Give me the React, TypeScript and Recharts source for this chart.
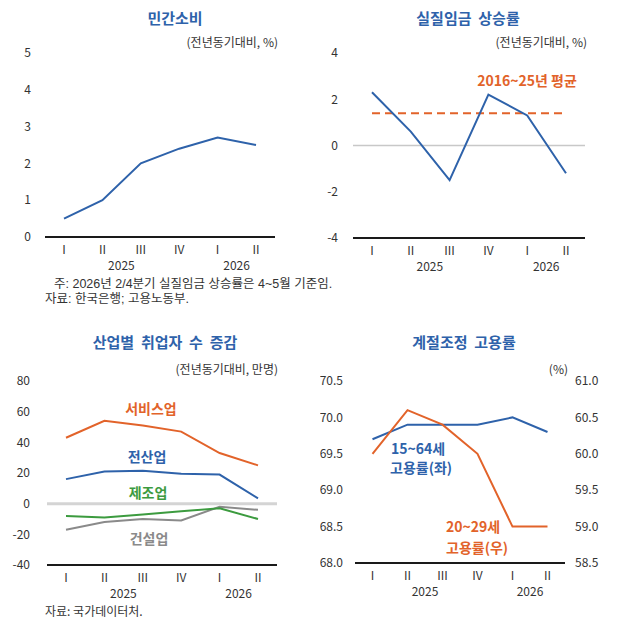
import React from 'react';
import { LineChart, Line, XAxis, YAxis, ReferenceLine } from 'recharts';

const FONT = '"Noto Sans CJK KR", "Noto Sans", sans-serif';
const NOTE_FONT = '"Liberation Sans", "Noto Sans CJK KR", sans-serif';

const quarters = ['I', 'II', 'III', 'IV', 'I', 'II'];
const yearLabels = ['', '2025', '', '', '2026', ''];

const consumption = [0.5, 1.0, 2.0, 2.4, 2.7, 2.5];
const realWage = [2.3, 0.6, -1.5, 2.2, 1.3, -1.2];
const wageAvg = [1.4, 1.4, 1.4, 1.4, 1.4, 1.4];

const services = [43, 54, 51, 47, 33, 25];
const allIndustries = [16, 21, 21.5, 19.5, 19, 3.5];
const manufacturing = [-8, -9, -7, -5, -3, -10];
const construction = [-17, -12, -10, -11, -2, -4];

const emp1564 = [69.7, 69.9, 69.9, 69.9, 70.0, 69.8];
const emp2029 = [60.0, 60.6, 60.4, 60.0, 59.0, 59.0];

const ticks1 = [0, 1, 2, 3, 4, 5];
const ticks2 = [-4, -2, 0, 2, 4];
const ticks3 = [-40, -20, 0, 20, 40, 60, 80];
const ticks4L = [68.0, 68.5, 69.0, 69.5, 70.0, 70.5];
const ticks4R = [58.5, 59.0, 59.5, 60.0, 60.5, 61.0];

const data1 = quarters.map((q, i) => ({ q, v: consumption[i] }));
const data2 = quarters.map((q, i) => ({ q, v: realWage[i], avg: wageAvg[i] }));
const data3 = quarters.map((q, i) => ({
  q,
  svc: services[i],
  all: allIndustries[i],
  mfg: manufacturing[i],
  con: construction[i],
}));
const data4 = quarters.map((q, i) => ({ q, a: emp1564[i], b: emp2029[i] }));

const BLUE = '#2E62AA';
const ORANGE = '#E2632A';
const GREEN = '#3C9B3F';
const GRAY = '#8A8A8A';
const TXT = '#333';

const makeTick = (halfBand: number) => (props: any) => {
  const { x, y, payload, index } = props;
  const yr = yearLabels[index];
  return (
    <g>
      <text x={x} y={y + 11} textAnchor="middle" dominantBaseline="central" fontSize={12} fill={TXT} fontFamily={FONT}>
        {payload.value}
      </text>
      {yr ? (
        <text x={x + halfBand} y={y + 27} textAnchor="middle" dominantBaseline="central" fontSize={12} fill={TXT} fontFamily={FONT}>
          {yr}
        </text>
      ) : null}
    </g>
  );
};

const yTick = { fontSize: 12, fill: TXT, fontFamily: FONT };

const Txt = ({ x, y, children, size = 12, color = TXT, bold = false, anchor = 'middle', font = FONT }: any) => {
  const tx = anchor === 'middle' ? '-50%' : anchor === 'end' ? '-100%' : '0';
  return (
    <div
      style={{
        position: 'absolute',
        left: x,
        top: y,
        transform: `translate(${tx}, -50%)`,
        fontSize: size,
        color,
        fontWeight: bold ? 700 : 400,
        whiteSpace: 'pre',
        lineHeight: 1,
        fontFamily: font,
      }}
    >
      {children}
    </div>
  );
};

const xAxisProps = (half: number) => ({
  dataKey: 'q',
  interval: 0 as const,
  tickLine: false,
  tickSize: 0,
  tickMargin: 0,
  axisLine: { stroke: '#1a1a1a', strokeWidth: 2 },
  tick: makeTick(half),
  height: 30,
  padding: { left: half, right: half },
});

export default function App() {
  return (
    <div style={{ position: 'absolute', left: 0, top: 0, width: 640, height: 624, background: '#fff', fontFamily: FONT }}>
      {/* Panel 1 */}
      <div style={{ position: 'absolute', left: 0, top: 0 }}>
        <LineChart width={320} height={300} data={data1} margin={{ top: 53, right: 45, left: 0, bottom: 33 }}>
          <XAxis {...xAxisProps(19)} />
          <YAxis domain={[0, 5]} ticks={ticks1} width={45} axisLine={false} tickLine={false} tickSize={6} tickMargin={8} tick={yTick} />
          <Line dataKey="v" stroke={BLUE} strokeWidth={2} dot={false} isAnimationActive={false} />
        </LineChart>
      </div>

      {/* Panel 2 */}
      <div style={{ position: 'absolute', left: 320, top: 0 }}>
        <LineChart width={320} height={300} data={data2} margin={{ top: 53, right: 55, left: 0, bottom: 32 }}>
          <XAxis {...xAxisProps(19)} />
          <YAxis domain={[-4, 4]} ticks={ticks2} width={33} axisLine={false} tickLine={false} tickSize={6} tickMargin={9} tick={yTick} />
          <ReferenceLine y={0} stroke="#c8c8c8" strokeWidth={1.5} />
          <Line dataKey="avg" stroke={ORANGE} strokeWidth={2} strokeDasharray="8 5" dot={false} isAnimationActive={false} />
          <Line dataKey="v" stroke={BLUE} strokeWidth={2} dot={false} isAnimationActive={false} />
        </LineChart>
      </div>

      {/* Panel 3 */}
      <div style={{ position: 'absolute', left: 0, top: 320 }}>
        <LineChart width={320} height={304} data={data3} margin={{ top: 61, right: 43, left: 0, bottom: 29 }}>
          <XAxis {...xAxisProps(19)} />
          <YAxis domain={[-40, 80]} ticks={ticks3} width={47} axisLine={false} tickLine={false} tickSize={6} tickMargin={11} tick={yTick} />
          <ReferenceLine y={0} stroke="#d4d4d4" strokeWidth={3} />
          <Line dataKey="con" stroke={GRAY} strokeWidth={2} dot={false} isAnimationActive={false} />
          <Line dataKey="mfg" stroke={GREEN} strokeWidth={2} dot={false} isAnimationActive={false} />
          <Line dataKey="all" stroke={BLUE} strokeWidth={2} dot={false} isAnimationActive={false} />
          <Line dataKey="svc" stroke={ORANGE} strokeWidth={2} dot={false} isAnimationActive={false} />
        </LineChart>
      </div>

      {/* Panel 4 */}
      <div style={{ position: 'absolute', left: 320, top: 320 }}>
        <LineChart width={320} height={304} data={data4} margin={{ top: 61, right: 35, left: 0, bottom: 31 }}>
          <XAxis {...xAxisProps(17.5)} />
          <YAxis yAxisId="L" domain={[68, 70.5]} ticks={ticks4L} width={35} axisLine={false} tickLine={false} tickSize={6} tickMargin={6} tick={yTick} tickFormatter={(v: number) => v.toFixed(1)} />
          <YAxis yAxisId="R" orientation="right" domain={[58.5, 61]} ticks={ticks4R} width={40} axisLine={false} tickLine={false} tickSize={6} tickMargin={4} tick={yTick} tickFormatter={(v: number) => v.toFixed(1)} />
          <Line yAxisId="L" dataKey="a" stroke={BLUE} strokeWidth={2} dot={false} isAnimationActive={false} />
          <Line yAxisId="R" dataKey="b" stroke={ORANGE} strokeWidth={2} dot={false} isAnimationActive={false} />
        </LineChart>
      </div>

      {/* Titles */}
      <Txt x={175} y={17} size={15} color={BLUE} bold>민간소비</Txt>
      <Txt x={468} y={17} size={15} color={BLUE} bold>실질임금  상승률</Txt>
      <Txt x={165} y={341} size={15} color={BLUE} bold>산업별  취업자  수  증감</Txt>
      <Txt x={464} y={341} size={15} color={BLUE} bold>계절조정  고용률</Txt>

      {/* Units */}
      <Txt x={278} y={42} size={12} anchor="end">(전년동기대비, %)</Txt>
      <Txt x={587} y={42} size={12} anchor="end">(전년동기대비, %)</Txt>
      <Txt x={278} y={369} size={12} anchor="end">(전년동기대비, 만명)</Txt>
      <Txt x={568} y={369} size={12} anchor="end">(%)</Txt>

      {/* Series labels */}
      <Txt x={527} y={80} size={14} color={ORANGE} bold>2016~25년 평균</Txt>
      <Txt x={151} y={408} size={14} color={ORANGE} bold>서비스업</Txt>
      <Txt x={147} y={456} size={14} color={BLUE} bold>전산업</Txt>
      <Txt x={148} y={492} size={14} color={GREEN} bold>제조업</Txt>
      <Txt x={149} y={538} size={14} color={GRAY} bold>건설업</Txt>
      <Txt x={391} y={448} size={14} color={BLUE} bold anchor="start">15~64세</Txt>
      <Txt x={390} y={467} size={14} color={BLUE} bold anchor="start">고용률(좌)</Txt>
      <Txt x={446} y={526} size={14} color={ORANGE} bold anchor="start">20~29세</Txt>
      <Txt x={446} y={547} size={14} color={ORANGE} bold anchor="start">고용률(우)</Txt>

      {/* Notes */}
      <Txt x={54} y={283.5} size={12.5} anchor="start" font={NOTE_FONT}>주: 2026년 2/4분기 실질임금 상승률은 4~5월 기준임.</Txt>
      <Txt x={45} y={298.5} size={12.5} anchor="start" font={NOTE_FONT}>자료: 한국은행; 고용노동부.</Txt>
      <Txt x={45} y={610.5} size={12} anchor="start">자료: 국가데이터처.</Txt>
    </div>
  );
}
